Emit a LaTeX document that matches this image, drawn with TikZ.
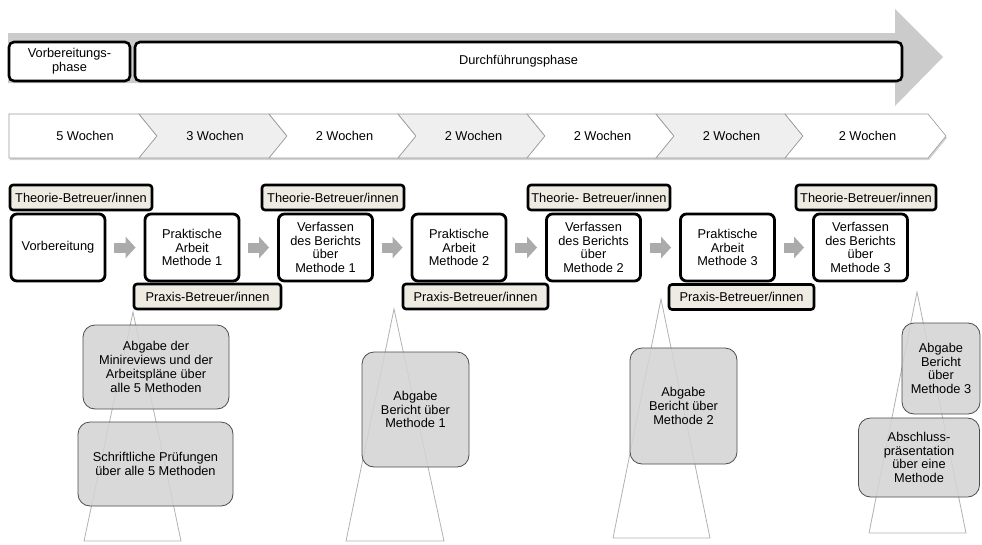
\documentclass[tikz,border=0pt]{standalone}
\usepackage{fontspec}
\setmainfont{Liberation Sans}
\usepackage{tikz}
\usetikzlibrary{arrows.meta,shadows}
\definecolor{bandgrey}{HTML}{CBCBCB}
\definecolor{chevgrey}{HTML}{EFEFEF}
\definecolor{tanbg}{HTML}{EEEBE2}
\definecolor{boxgrey}{HTML}{D4D4D4}
\definecolor{gapgrey}{HTML}{ABABAB}

\begin{document}
\begin{tikzpicture}[x=1pt,y=-1pt,font=\fontsize{12.8}{13.8}\selectfont]
		\tikzset{phase/.style={draw=black,line width=2.6pt,rounded corners=5pt,fill=white,minimum height=39pt,inner sep=0pt,align=center}};
		\tikzset{chev/.style={draw=black!40,line width=0.6pt,drop shadow={shadow xshift=1pt,shadow yshift=-2pt,opacity=0.35}}};
		\tikzset{stage/.style={draw=black,line width=2.8pt,rounded corners=6pt,fill=white,minimum width=94pt,minimum height=67pt,inner sep=0pt,align=center}};
		\tikzset{mentor/.style={draw=black,line width=2.6pt,rounded corners=3pt,fill=tanbg,minimum height=25pt,inner sep=0pt}};
		\tikzset{gap/.style={gapgrey,line width=10pt,shorten <=8pt,shorten >=8pt,-{Triangle[length=10pt,width=21pt]}}};
		\tikzset{peak/.style={draw=black!30,fill=white,line width=0.8pt}};
		\tikzset{milestone/.style={draw=black!70,line width=0.8pt,fill=boxgrey,fill opacity=0.88,text opacity=1,rounded corners=12pt,inner sep=0pt,align=center}};
		\useasboundingbox (0,0) rectangle (982,544);
		\fill[bandgrey] (8,33) -- (895,33) -- (895,9) -- (943,57) -- (895,106) -- (895,83) -- (8,83) -- cycle;
		\node[phase,minimum width=121pt] (vphase) at (69.5,61.5) {Vorbereitungs-\\phase};
		\node[phase,minimum width=767pt] (dphase) at (518.5,61.5) {Durchführungsphase};
		\draw[chev,fill=white] (9,114) -- (139,114) -- (157,136) -- (139,158) -- (9,158) -- cycle;
		\node (w1) at (85,136) {5 Wochen};
		\foreach \n/\l/\r/\c/\t in {2/139/269/chevgrey/3,3/269/398/white/2,4/398/527/chevgrey/2,5/527/656/white/2,6/656/785/chevgrey/2,7/785/928/white/2}{
			\draw[chev,fill=\c] (\l,114) -- (\r,114) -- (\r+18,136) -- (\r,158) -- (\l,158) -- (\l+18,136) -- cycle;
			\node (w\n) at ({(\l+\r)/2+11},136) {\t\ Wochen};
		}
		\draw[peak] (133,312) -- (181,541) -- (84,541) -- cycle;
		\draw[peak] (394,309) -- (444,541) -- (346,541) -- cycle;
		\draw[peak] (661,299) -- (710,538) -- (613,538) -- cycle;
		\draw[peak] (917,292) -- (966,533) -- (869,533) -- cycle;
		\node[stage] (vorb) at (58,247.5) {Vorbereitung};
		\node[stage] (pa1) at (192,247.5) {Praktische\\Arbeit\\Methode 1};
		\node[stage] (vb1) at (325.5,247.5) {Verfassen\\des Berichts\\über\\Methode 1};
		\node[stage] (pa2) at (459,247.5) {Praktische\\Arbeit\\Methode 2};
		\node[stage] (vb2) at (593.5,247.5) {Verfassen\\des Berichts\\über\\Methode 2};
		\node[stage] (pa3) at (727.5,247.5) {Praktische\\Arbeit\\Methode 3};
		\node[stage] (vb3) at (860.5,247.5) {Verfassen\\des Berichts\\über\\Methode 3};
		\foreach \a/\b in {vorb/pa1,pa1/vb1,vb1/pa2,pa2/vb2,vb2/pa3,pa3/vb3}
			\draw[gap] (\a) -- (\b);
		\node[mentor,minimum width=142pt] (th1) at (81,197.5) {Theorie-Betreuer/innen};
		\node[mentor,minimum width=142pt] (th2) at (333,197.5) {Theorie-Betreuer/innen};
		\node[mentor,minimum width=142pt] (th3) at (599,197.5) {Theorie- Betreuer/innen};
		\node[mentor,minimum width=140pt] (th4) at (866,197.5) {Theorie-Betreuer/innen};
		\node[mentor,minimum width=147pt] (pr1) at (207.5,296.5) {Praxis-Betreuer/innen};
		\node[mentor,minimum width=145pt] (pr2) at (475.5,296.5) {Praxis-Betreuer/innen};
		\node[mentor,minimum width=145pt] (pr3) at (741.5,297) {Praxis-Betreuer/innen};
		\node[milestone,minimum width=146pt,minimum height=84pt] (ab1) at (156,367) {Abgabe der\\Minireviews und der\\Arbeitspläne über\\alle 5 Methoden};
		\node[milestone,minimum width=155pt,minimum height=84pt] (sp1) at (155.5,464) {Schriftliche Prüfungen\\über alle 5 Methoden};
		\node[milestone,minimum width=107pt,minimum height=115pt] (ab2) at (415.5,409.5) {Abgabe\\Bericht über\\Methode 1};
		\node[milestone,minimum width=107pt,minimum height=116pt] (ab3) at (683.5,406) {Abgabe\\Bericht über\\Methode 2};
		\node[milestone,minimum width=78pt,minimum height=91pt] (ab4) at (941,368.5) {Abgabe\\Bericht\\über\\Methode 3};
		\node[milestone,minimum width=121pt,minimum height=79pt] (fin) at (919,457.5) {Abschluss-\\präsentation\\über eine\\Methode};
	\end{tikzpicture}
\end{document}
